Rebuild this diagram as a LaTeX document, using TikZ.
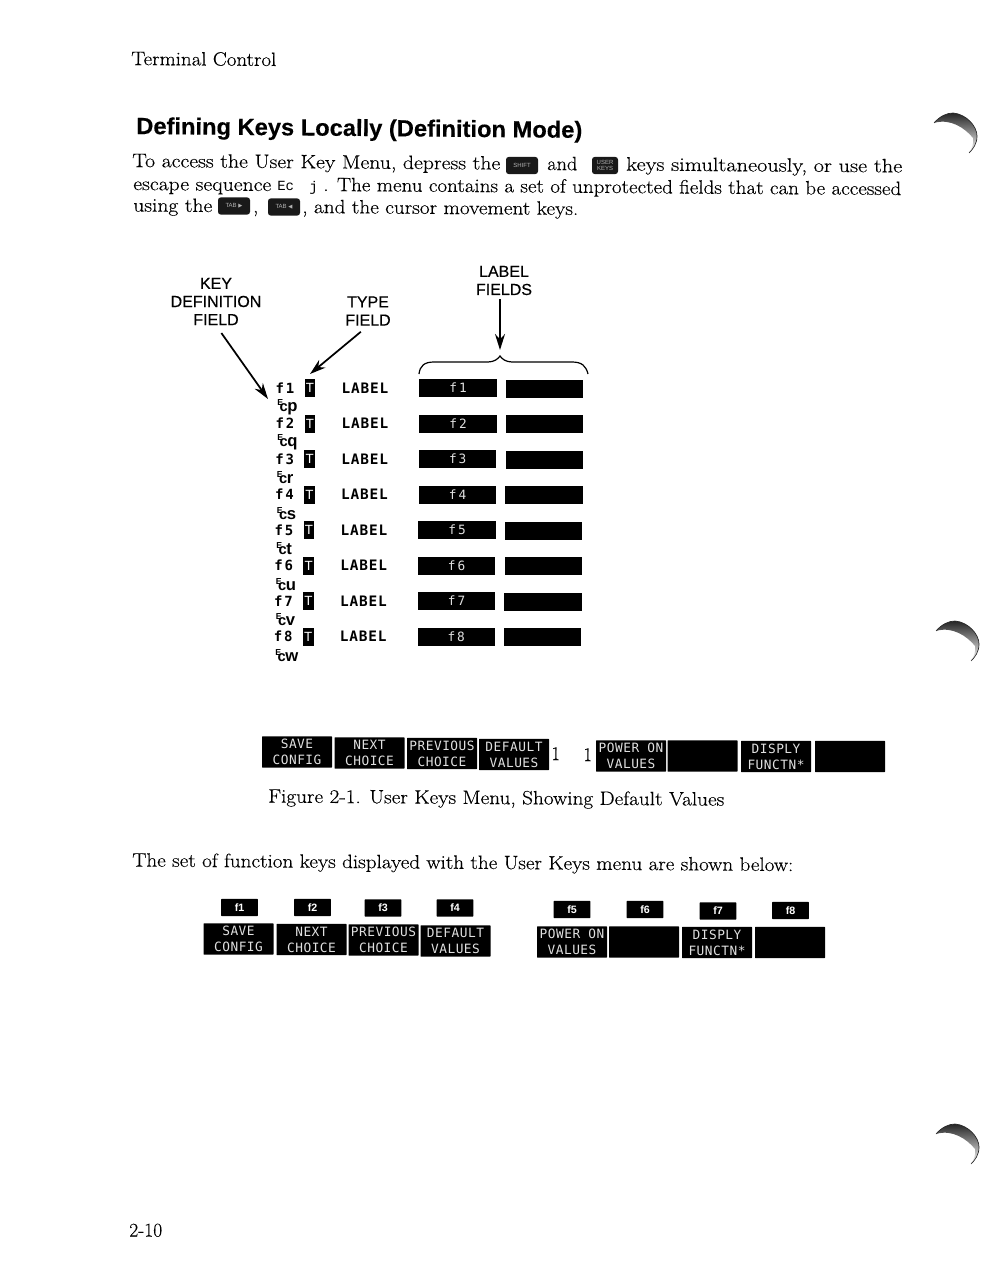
\documentclass[tikz,border=0pt]{standalone}
\usepackage{fontspec}
\usepackage{graphicx}
\usetikzlibrary{arrows.meta}
\setmainfont[FakeBold=0.25]{Latin Modern Roman}
\newfontfamily\hsans{Liberation Sans}
\newfontfamily\hhead[FakeBold=0.35]{Liberation Sans}
\newfontfamily\htitle[FakeBold=0.35]{Liberation Sans Bold}
\newfontfamily\hmono{Liberation Mono}
\newfontfamily\dmono{DejaVu Sans Mono}
\newfontfamily\dkeys[LetterSpace=4]{DejaVu Sans Mono}
\newfontfamily\dlabel[LetterSpace=6]{DejaVu Sans Mono Bold}
\newfontfamily\dsans{DejaVu Sans}
\newcommand{\fitw}[2]{\resizebox{\dimexpr#1pt*3/4\relax}{\height}{#2}}
\newcommand{\escglyph}[1]{{\hsans\bfseries\raisebox{0.85ex}{\fontsize{6.5}{7}\selectfont E}\kern-0.5ex\fontsize{11}{11}\selectfont c\kern-0.05ex\fontsize{12.5}{12}\selectfont #1}}
\tikzset{
  body/.style={anchor=base west,inner sep=0pt,rotate=-0.4,font=\fontsize{14.5}{16}\selectfont},
  head/.style={anchor=center,inner sep=0pt,align=center,font=\hhead\fontsize{12}{13.6}\selectfont},
  softkey/.style={fill=black,text=black!12,inner sep=0pt,minimum width=52.5pt,minimum height=23.5pt,align=center,rounded corners=0.4pt,font=\dkeys\fontsize{9.6}{12}\selectfont},
  capkey/.style={fill=black,text=white,inner sep=0pt,minimum width=27.5pt,minimum height=12.8pt,rounded corners=0.4pt,font=\hsans\bfseries\fontsize{8}{9}\selectfont},
  inkey/.style={fill=black!90,text=black!30,inner sep=0pt,minimum width=24pt,minimum height=12.8pt,rounded corners=2pt,align=center,font=\hsans\fontsize{4.5}{5}\selectfont},
  fkey/.style={inner sep=0pt,font=\dmono\bfseries\fontsize{10.5}{12}\selectfont},
  esckey/.style={inner sep=0pt,anchor=west},
  typekey/.style={fill=black,text=white,inner sep=0pt,minimum width=8pt,minimum height=13.5pt,font=\hsans\fontsize{10}{10}\selectfont},
  labeltext/.style={inner sep=0pt,font=\dlabel\fontsize{10.8}{12}\selectfont},
  barkey/.style={fill=black,text=black!12,inner sep=0pt,minimum width=58pt,minimum height=13.5pt,font=\dkeys\fontsize{9.6}{11}\selectfont},
  callout/.style={line width=1.3pt,-{Stealth[length=12pt,width=7.5pt]}},
  crescent/.style={top color=black!85,bottom color=black!2},
}
\begin{document}
\begin{tikzpicture}[x=0.75pt,y=-0.75pt]
\useasboundingbox (0,0) rectangle (1004,1288);
\fill[white] (0,0) rectangle (1004,1288);

\node[body] (running) at (131,65) {\fitw{145}{Terminal Control}};
\node[anchor=base west,inner sep=0pt,rotate=-0.5,font=\htitle\fontsize{17.5}{20}\selectfont] (title) at (136,134) {\fitw{446}{Defining Keys Locally (Definition Mode)}};

% paragraph
\node[body] (p1a) at (132,167) {\fitw{368}{To access the User Key Menu, depress the}};
\node[inkey] (kshift) at (522,165.5) {SHIFT};
\node[body] (p1b) at (547,170) {\fitw{30}{and}};
\node[inkey,minimum width=19.5pt] (kuser) at (605,165.5) {USER\\KEYS};
\node[body] (p1c) at (626,170.5) {\fitw{276}{keys simultaneously, or use the}};
\node[body] (p2a) at (133,190) {\fitw{138}{escape sequence}};
\node[anchor=base west,inner sep=0pt,font=\hmono\fontsize{10.5}{12}\selectfont] (p2b) at (277,190) {Ec};
\node[anchor=base west,inner sep=0pt,font=\hmono\fontsize{10.5}{12}\selectfont] (p2c) at (309,191) {j};
\node[body] (p2d) at (323,191) {\fitw{578}{. The menu contains a set of unprotected fields that can be accessed}};
\node[body] (p3a) at (133,211.5) {\fitw{79}{using the}};
\node[inkey] (ktab1) at (234,206) {TAB {\dsans\fontsize{4}{4}\selectfont ▶}};
\node[body] (p3b) at (253,212.5) {,};
\node[inkey] (ktab2) at (284,207) {TAB {\dsans\fontsize{4}{4}\selectfont ◀}};
\node[body] (p3c) at (302,213) {\fitw{276}{, and the cursor movement keys.}};

% heads
\node[head] (keyhead) at (216,301.5) {KEY\\DEFINITION\\FIELD};
\node[head] (typehead) at (368,311) {TYPE\\FIELD};
\node[head] (labelhead) at (504,280.5) {LABEL\\FIELDS};

\coordinate (keyend) at (268,399);
\coordinate (typeend) at (310,374);
\coordinate (labelend) at (500,350);
\draw[callout,shorten <=7pt] (keyhead.south) -- (keyend);
\draw[callout,shorten <=7pt] (typehead.south) -- (typeend);
\draw[callout,shorten <=3pt] (labelhead.south -| labelend) -- (labelend);

% brace
\coordinate (braceL) at (419,374);
\coordinate (braceR) at (588,374);
\coordinate (braceM) at (500,356);
\draw[line width=0.9pt] (braceL) .. controls (420,366) and (424,362) .. (434,362)
  -- (488,362) .. controls (494,362) and (498,359) .. (braceM)
  .. controls (502,359) and (506,362) .. (512,362) -- (572,362)
  .. controls (582,362) and (586,366) .. (braceR);

% rows
\foreach \i/\esc/\dx in {1/p/0,2/q/0,3/r/-0.3,4/s/-0.5,5/t/-1,6/u/-1.3,7/v/-1.5,8/w/-1.8}{
  \pgfmathsetmacro{\yy}{388+35.5*(\i-1)}
  \pgfmathsetmacro{\yb}{\yy+0.8}
  \node[fkey] (fname\i) at (285+\dx,\yy) {f\kern1.5pt\i};
  \node[esckey] (esc\i) at (277+\dx,\yy+19) {\escglyph{\esc}};
  \node[typekey] (type\i) at (310+\dx,\yy) {T};
  \node[labeltext] (label\i) at (365+\dx,\yy) {LABEL};
  \node[barkey] (bar\i) at (458+\dx,\yy) {f\kern1.5pt\i};
  \node[barkey] (blank\i) at (544.5+\dx,\yb) {};
}

% first menu
\node[softkey] (a1) at (297,752) {SAVE\\CONFIG};
\node[softkey] (a2) at (369.5,753) {NEXT\\CHOICE};
\node[softkey] (a3) at (442,753.5) {PREVIOUS\\CHOICE};
\node[softkey] (a4) at (514,754.5) {DEFAULT\\VALUES};
\node[body,rotate=0] (one1) at (551,760) {1};
\node[body,rotate=0] (one2) at (583,761) {1};
\node[softkey] (a5) at (631,756) {POWER ON\\VALUES};
\node[softkey] (a6) at (702.5,756) {};
\node[softkey] (a7) at (776,756.5) {DISPLY\\FUNCTN*};
\node[softkey] (a8) at (850,756.5) {};
\node[body] (caption) at (268,802.5) {\fitw{456}{Figure 2-1. User Keys Menu, Showing Default Values}};

\node[body] (setline) at (132,866.5) {\fitw{661}{The set of function keys displayed with the User Keys menu are shown below:}};

% second menu
\foreach \n/\xx/\yy in {1/239.5/907.5,2/312.5/907.5,3/383/908,4/455/908,5/572/909.5,6/645/909.5,7/718/911,8/790.5/910.5}{
  \node[capkey] (cap\n) at (\xx,\yy) {f\n};
}
\node[softkey] (b1) at (238.5,939) {SAVE\\CONFIG};
\node[softkey] (b2) at (311.5,939.5) {NEXT\\CHOICE};
\node[softkey] (b3) at (383.5,940) {PREVIOUS\\CHOICE};
\node[softkey] (b4) at (455.5,941) {DEFAULT\\VALUES};
\node[softkey] (b5) at (572,942) {POWER ON\\VALUES};
\node[softkey] (b6) at (644,942) {};
\node[softkey] (b7) at (717,942.5) {DISPLY\\FUNCTN*};
\node[softkey] (b8) at (790,942.5) {};

\node[body,rotate=0.4] (pageno) at (129,1236.5) {\fitw{33}{2-10}};

% crescents
\foreach \ox/\oy in {0/0,2/508,2/1011}{
  \begin{scope}[shift={(\ox,\oy)}]
    \shade[crescent]
      (934,123) .. controls (940,116) and (947,113) .. (953,113)
      .. controls (966,114) and (977,126) .. (977,136)
      .. controls (977,144) and (973,149) .. (969,153)
      .. controls (972,148) and (974,144) .. (973,138)
      .. controls (965,128) and (950,118) .. (934,123) -- cycle;
    \draw[line width=0.5pt,black!85] (934,123) .. controls (940,116) and (947,113) .. (953,113)
      .. controls (966,114) and (977,126) .. (977,136)
      .. controls (977,144) and (973,149) .. (969,153);
  \end{scope}
}
\end{tikzpicture}
\end{document}
